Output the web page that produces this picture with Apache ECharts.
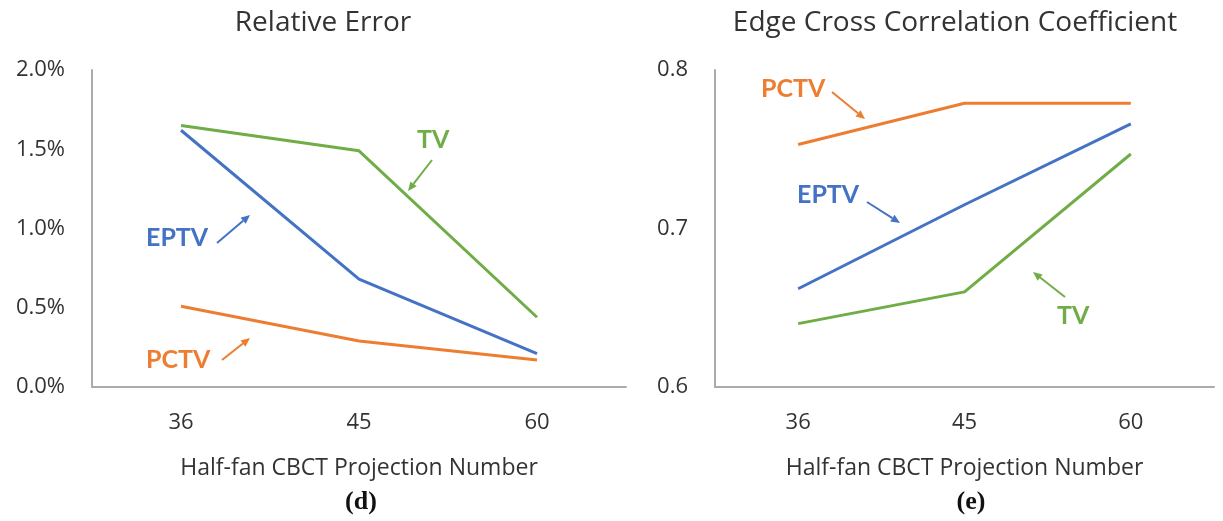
<!DOCTYPE html>
<html>
<head>
<meta charset="utf-8">
<script src="https://cdn.jsdelivr.net/npm/echarts@6/dist/echarts.min.js"></script>
<style>
  html, body { margin: 0; padding: 0; background: #fff; }
  #chart { width: 1223px; height: 521px; }
</style>
</head>
<body>
<div id="chart"></div>
<script>
// categories (projection numbers)
const categories = ['36', '45', '60'];

// (d) relative error, in percent
const errTV = [1.65, 1.49, 0.44];
const errEPTV = [1.62, 0.68, 0.21];
const errPCTV = [0.51, 0.29, 0.17];
const errTicks = [0, 0.5, 1.0, 1.5, 2.0];

// (e) edge cross correlation coefficient
const eccPCTV = [0.753, 0.779, 0.779];
const eccEPTV = [0.662, 0.715, 0.766];
const eccTV = [0.640, 0.660, 0.747];
const eccTicks = [0.6, 0.7, 0.8];

const BLUE = '#4472C4';
const ORANGE = '#ED7D31';
const GREEN = '#70AD47';
const FONT = '"Open Sans", sans-serif';
const NOTE_FONT = 'Lato, sans-serif';
const TEXT = '#333333';

const chart = echarts.init(document.getElementById('chart'));

function xAxisOf(gridIndex) {
  return {
    type: 'category',
    gridIndex: gridIndex,
    data: categories,
    boundaryGap: true,
    axisTick: { show: false },
    axisLine: { lineStyle: { color: '#ABABAB', width: 2 } },
    axisLabel: { color: TEXT, fontSize: 22, fontFamily: FONT, margin: 25 },
    name: 'Half-fan CBCT Projection Number',
    nameLocation: 'middle',
    nameGap: 70,
    nameTextStyle: { color: TEXT, fontSize: 23, fontFamily: FONT }
  };
}

function lineOf(name, data, color, idx) {
  return {
    name: name,
    type: 'line',
    xAxisIndex: idx,
    yAxisIndex: idx,
    data: data,
    symbol: 'none',
    color: color,
    lineStyle: { width: 3, color: color }
  };
}

// annotation label + arrow, positions in pixels
function note(text, color, tx, ty, x1, y1, x2, y2) {
  const ang = Math.atan2(y2 - y1, x2 - x1);
  const h = 9, w = 4;
  const bx = x2 - h * Math.cos(ang), by = y2 - h * Math.sin(ang);
  const px = -Math.sin(ang) * w, py = Math.cos(ang) * w;
  return [
    {
      type: 'text', left: tx, top: ty,
      style: { text: text, fill: color, font: 'bold 25px ' + NOTE_FONT }
    },
    {
      type: 'line',
      shape: { x1: x1, y1: y1, x2: bx, y2: by },
      style: { stroke: color, lineWidth: 2 }
    },
    {
      type: 'polygon',
      shape: { points: [[x2, y2], [bx + px, by + py], [bx - px, by - py]] },
      style: { fill: color }
    }
  ];
}

const option = {
  backgroundColor: '#fff',
  animation: false,
  title: [
    { text: 'Relative Error', left: 318, top: 4, textAlign: 'center',
      textStyle: { fontSize: 28, fontWeight: 'normal', color: TEXT, fontFamily: FONT } },
    { text: 'Edge Cross Correlation Coefficient', left: 950, top: 4, textAlign: 'center',
      textStyle: { fontSize: 28, fontWeight: 'normal', color: TEXT, fontFamily: FONT } },
    { text: '(d)', left: 356, top: 484, textAlign: 'center',
      textStyle: { fontSize: 26, fontWeight: 'bold', color: '#111', fontFamily: '"Liberation Serif", serif' } },
    { text: '(e)', left: 966, top: 484, textAlign: 'center',
      textStyle: { fontSize: 26, fontWeight: 'bold', color: '#111', fontFamily: '"Liberation Serif", serif' } }
  ],
  grid: [
    { left: 92, top: 70, width: 534, height: 317 },
    { left: 715, top: 70, width: 499, height: 317 }
  ],
  xAxis: [xAxisOf(0), xAxisOf(1)],
  yAxis: [
    {
      type: 'value', gridIndex: 0,
      min: errTicks[0], max: errTicks[errTicks.length - 1], interval: 0.5,
      axisLine: { show: true, lineStyle: { color: '#ABABAB', width: 2 } },
      axisTick: { show: false },
      splitLine: { show: false },
      axisLabel: { color: TEXT, fontSize: 22, fontFamily: FONT, margin: 27,
        formatter: v => v.toFixed(1) + '%' }
    },
    {
      type: 'value', gridIndex: 1,
      min: eccTicks[0], max: eccTicks[eccTicks.length - 1], interval: 0.1,
      axisLine: { show: true, lineStyle: { color: '#ABABAB', width: 2 } },
      axisTick: { show: false },
      splitLine: { show: false },
      axisLabel: { color: TEXT, fontSize: 22, fontFamily: FONT, margin: 27,
        formatter: v => v.toFixed(1) }
    }
  ],
  series: [
    lineOf('PCTV', errPCTV, ORANGE, 0),
    lineOf('EPTV', errEPTV, BLUE, 0),
    lineOf('TV', errTV, GREEN, 0),
    lineOf('PCTV', eccPCTV, ORANGE, 1),
    lineOf('EPTV', eccEPTV, BLUE, 1),
    lineOf('TV', eccTV, GREEN, 1)
  ],
  graphic: [].concat(
    note('TV', GREEN, 417, 127, 432, 160, 408, 191),
    note('EPTV', BLUE, 146, 225, 217, 243, 250, 215),
    note('PCTV', ORANGE, 146, 347, 222, 360, 250, 338),
    note('PCTV', ORANGE, 761, 76, 832, 92, 865, 119),
    note('EPTV', BLUE, 797, 182, 867, 202, 900, 223),
    note('TV', GREEN, 1057, 303, 1065, 297, 1033, 272)
  )
};

chart.setOption(option);
</script>
</body>
</html>
